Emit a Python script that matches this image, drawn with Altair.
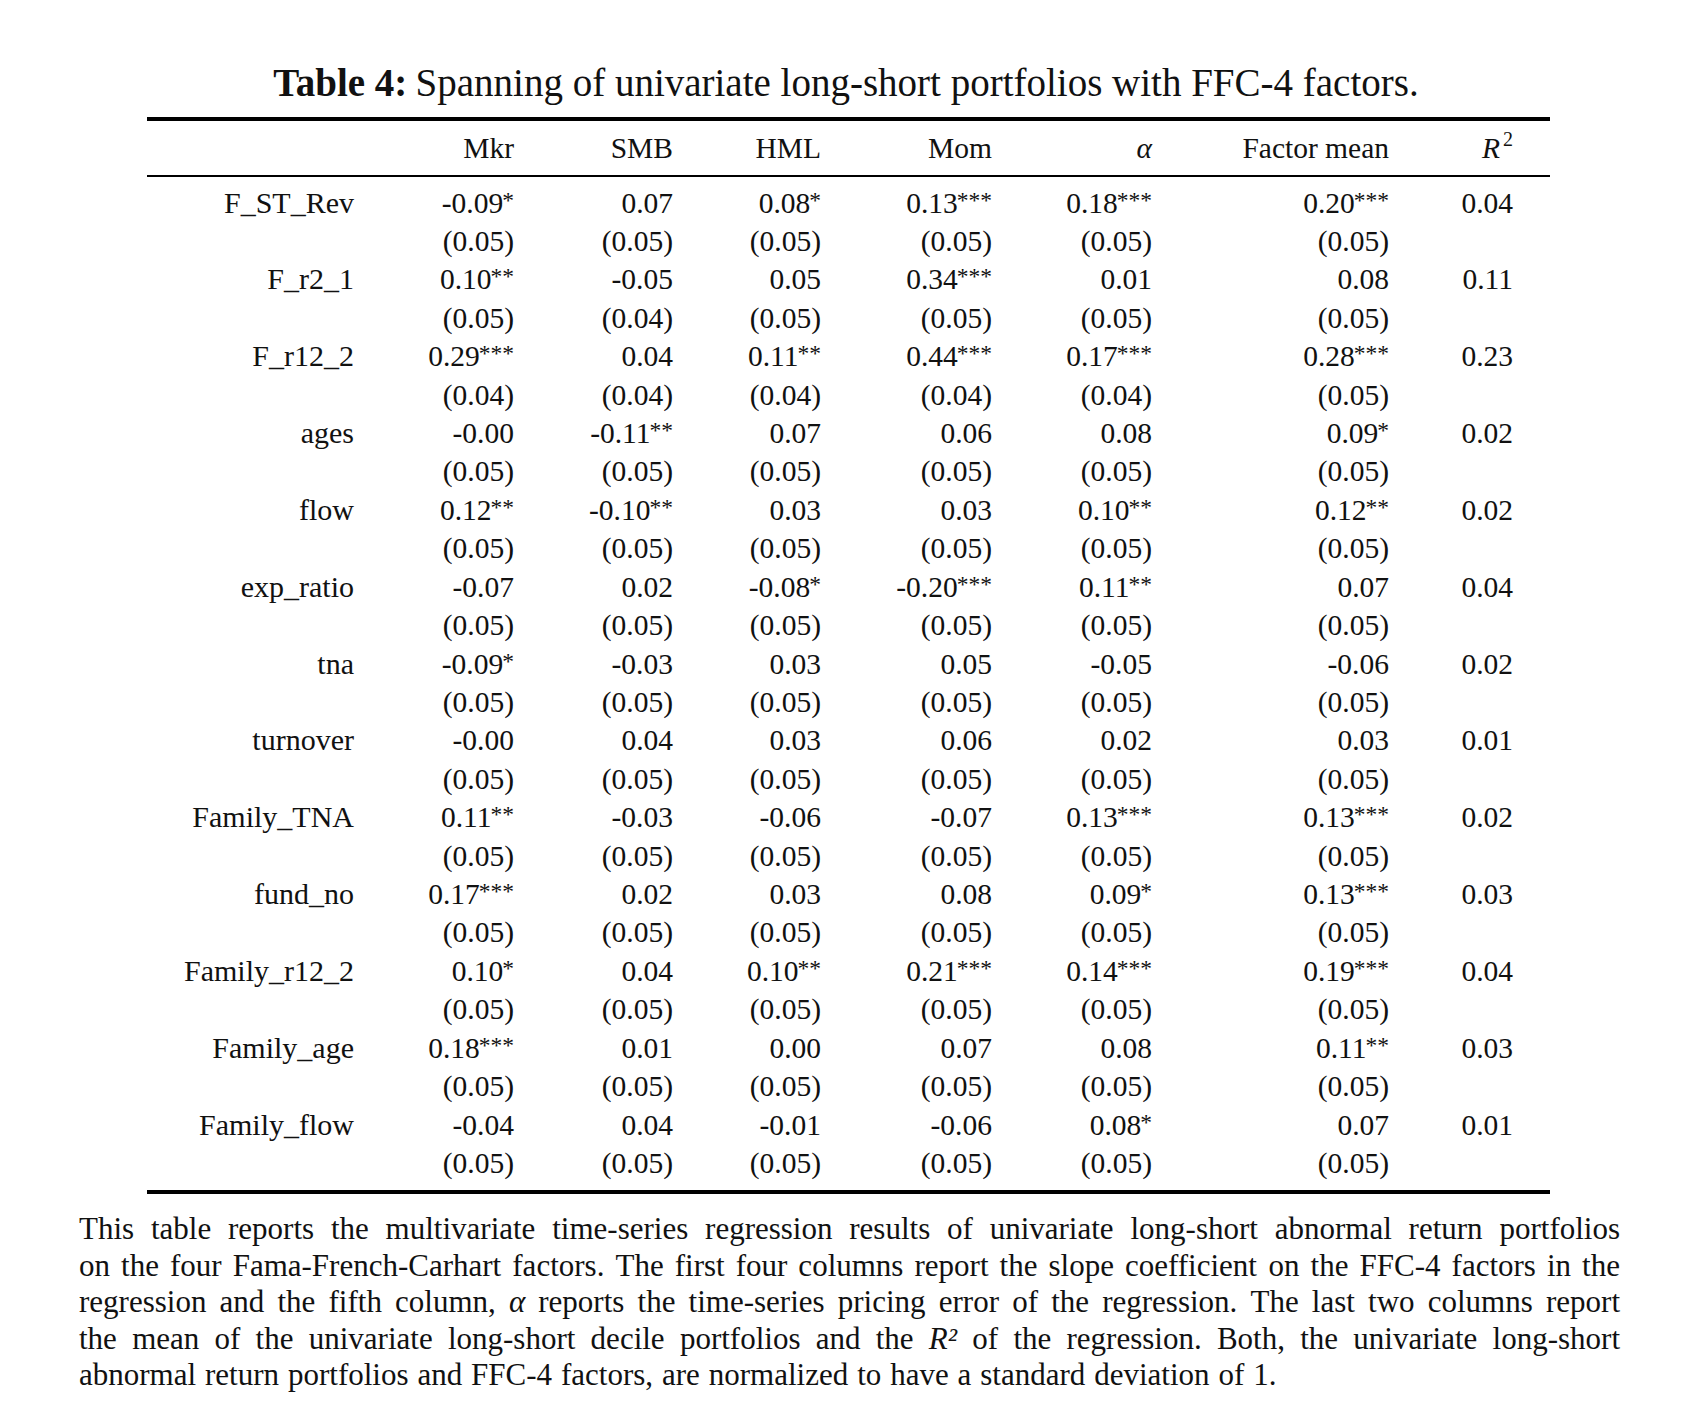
import altair as alt
import pandas as pd

FONT = "Liberation Serif"

row_labels = ["F_ST_Rev", "F_r2_1", "F_r12_2", "ages", "flow", "exp_ratio", "tna",
              "turnover", "Family_TNA", "fund_no", "Family_r12_2", "Family_age", "Family_flow"]

mkr = ["-0.09*", "0.10**", "0.29***", "-0.00", "0.12**", "-0.07", "-0.09*", "-0.00",
       "0.11**", "0.17***", "0.10*", "0.18***", "-0.04"]
mkr_se = ["0.05", "0.05", "0.04", "0.05", "0.05", "0.05", "0.05", "0.05", "0.05", "0.05",
          "0.05", "0.05", "0.05"]
smb = ["0.07", "-0.05", "0.04", "-0.11**", "-0.10**", "0.02", "-0.03", "0.04", "-0.03",
       "0.02", "0.04", "0.01", "0.04"]
smb_se = ["0.05", "0.04", "0.04", "0.05", "0.05", "0.05", "0.05", "0.05", "0.05", "0.05",
          "0.05", "0.05", "0.05"]
hml = ["0.08*", "0.05", "0.11**", "0.07", "0.03", "-0.08*", "0.03", "0.03", "-0.06",
       "0.03", "0.10**", "0.00", "-0.01"]
hml_se = ["0.05", "0.05", "0.04", "0.05", "0.05", "0.05", "0.05", "0.05", "0.05", "0.05",
          "0.05", "0.05", "0.05"]
mom = ["0.13***", "0.34***", "0.44***", "0.06", "0.03", "-0.20***", "0.05", "0.06",
       "-0.07", "0.08", "0.21***", "0.07", "-0.06"]
mom_se = ["0.05", "0.05", "0.04", "0.05", "0.05", "0.05", "0.05", "0.05", "0.05", "0.05",
          "0.05", "0.05", "0.05"]
alpha = ["0.18***", "0.01", "0.17***", "0.08", "0.10**", "0.11**", "-0.05", "0.02",
         "0.13***", "0.09*", "0.14***", "0.08", "0.08*"]
alpha_se = ["0.05", "0.05", "0.04", "0.05", "0.05", "0.05", "0.05", "0.05", "0.05", "0.05",
            "0.05", "0.05", "0.05"]
fmean = ["0.20***", "0.08", "0.28***", "0.09*", "0.12**", "0.07", "-0.06", "0.03",
         "0.13***", "0.13***", "0.19***", "0.11**", "0.07"]
fmean_se = ["0.05", "0.05", "0.05", "0.05", "0.05", "0.05", "0.05", "0.05", "0.05", "0.05",
            "0.05", "0.05", "0.05"]
r2 = ["0.04", "0.11", "0.23", "0.02", "0.02", "0.04", "0.02", "0.01", "0.02", "0.03",
      "0.04", "0.03", "0.01"]

headers = ["Mkr", "SMB", "HML", "Mom", "α", "Factor mean", "R"]

title_bold = "Table 4:"
title_rest = "Spanning of univariate long-short portfolios with FFC-4 factors."

footnote = [
    "This table reports the multivariate time-series regression results of univariate long-short abnormal return portfolios",
    "on the four Fama-French-Carhart factors. The first four columns report the slope coefficient on the FFC-4 factors in the",
    "regression and the fifth column, α reports the time-series pricing error of the regression. The last two columns report",
    "the mean of the univariate long-short decile portfolios and the R² of the regression. Both, the univariate long-short",
    "abnormal return portfolios and FFC-4 factors, are normalized to have a standard deviation of 1.",
]
italic_words = ["α", "R²"]

# ---- approximate Times (Liberation Serif) advance widths, per 1000 em, for layout ----
TR = {" ": 250, "(": 333, ")": 333, "*": 500, ",": 250, "-": 333, ".": 250, ":": 278,
      "A": 722, "B": 667, "C": 667, "D": 722, "E": 611, "F": 556, "G": 722, "H": 722,
      "I": 333, "J": 389, "K": 722, "L": 611, "M": 889, "N": 722, "O": 722, "P": 556,
      "Q": 722, "R": 611, "S": 556, "T": 611, "U": 722, "V": 722, "W": 944, "X": 722,
      "Y": 722, "Z": 611, "a": 444, "b": 500, "c": 444, "d": 500, "e": 444, "f": 333,
      "g": 500, "h": 500, "i": 278, "j": 278, "k": 500, "l": 278, "m": 778, "n": 500,
      "o": 500, "p": 500, "q": 500, "r": 333, "s": 389, "t": 278, "u": 500, "v": 500,
      "w": 722, "x": 500, "y": 500, "z": 444, "α": 520, "²": 300}
TB = {" ": 250, "T": 667, "a": 500, "b": 556, "l": 278, "e": 444, "4": 500, ":": 333}


def width(s, size, table=TR):
    return sum(table.get(ch, 500) for ch in s) / 1000.0 * size


# ---- layout (pixels in plot area) ----
W, H = 1690, 1412
FS = 29.5
STAR_FS = 23.5
STAR_W = 0.5 * STAR_FS
col_x = [506, 665, 813, 984, 1144, 1381, 1505]   # right edges of the 7 columns
label_x = 346
yscale = alt.Scale(domain=[0, 25], range=[195.5, 1156])
pix = alt.Scale(domain=[0, W], range=[0, W])
piy = alt.Scale(domain=[0, H], range=[0, H])
TXT = dict(font=FONT, color="#111")
ax = dict(axis=None)

columns = [(mkr, mkr_se), (smb, smb_se), (hml, hml_se), (mom, mom_se),
           (alpha, alpha_se), (fmean, fmean_se), (r2, None)]

# body table derived from the arrays
rows = []
for (vals, ses), xr in zip(columns, col_x):
    for i, v in enumerate(vals):
        num = v.rstrip("*")
        stars = v[len(num):]
        rows.append({"line": 2 * i, "num": num, "stars": stars,
                     "xn": xr - len(stars) * STAR_W + (1 if stars else 0), "xs": xr})
        if ses is not None:
            rows.append({"line": 2 * i + 1, "num": "(" + ses[i] + ")", "stars": "",
                         "xn": xr, "xs": xr})
body = pd.DataFrame(rows)

layers = []
layers.append(
    alt.Chart(body).mark_text(align="right", baseline="middle", fontSize=FS, **TXT)
    .encode(x=alt.X("xn:Q", scale=pix, **ax), y=alt.Y("line:Q", scale=yscale, **ax), text="num:N")
)
layers.append(
    alt.Chart(body).transform_filter(alt.datum.stars != "")
    .mark_text(align="right", baseline="middle", fontSize=STAR_FS, dy=-3, **TXT)
    .encode(x=alt.X("xs:Q", scale=pix, **ax), y=alt.Y("line:Q", scale=yscale, **ax), text="stars:N")
)

# row labels
lab_df = pd.DataFrame({"line": [2 * i for i in range(len(row_labels))], "text": row_labels})
layers.append(
    alt.Chart(lab_df).mark_text(align="right", baseline="middle", fontSize=FS + 0.5, **TXT)
    .encode(x=alt.value(label_x), y=alt.Y("line:Q", scale=yscale, **ax), text="text:N")
)

# headers
head_y = 141
for h, x in zip(headers, col_x):
    italic = h in ("α", "R")
    xx = x - 13 if h == "R" else x
    layers.append(
        alt.Chart(pd.DataFrame({"t": [h]})).mark_text(
            align="right", baseline="middle", fontSize=FS,
            fontStyle="italic" if italic else "normal", **TXT)
        .encode(x=alt.value(xx), y=alt.value(head_y), text="t:N")
    )
layers.append(
    alt.Chart(pd.DataFrame({"t": ["2"]})).mark_text(
        align="right", baseline="middle", fontSize=20, **TXT)
    .encode(x=alt.value(col_x[-1]), y=alt.value(head_y - 9), text="t:N")
)

# title: centred, sized to the reference's extent
title_target = 1160
t_gap = 0.12
t_em = width(title_bold, 1, TB) + t_gap + width(title_rest, 1)
TFS = min(39, title_target / t_em)
t_left = 838 - t_em * TFS / 2
t_split = t_left + width(title_bold, TFS, TB)
title_df = pd.DataFrame({
    "x": [t_left, t_split + t_gap * TFS], "y": [76, 76],
    "text": [title_bold, title_rest], "w": ["bold", "normal"]})
for wt in ["bold", "normal"]:
    layers.append(
        alt.Chart(title_df).transform_filter(alt.datum.w == wt)
        .mark_text(align="left", baseline="middle", fontSize=TFS, fontWeight=wt, **TXT)
        .encode(x=alt.X("x:Q", scale=pix, **ax), y=alt.Y("y:Q", scale=piy, **ax), text="text:N")
    )

# rules
for yy, sw in [(111, 4), (168, 2), (1184, 4)]:
    layers.append(
        alt.Chart(pd.DataFrame({"a": [0]})).mark_rule(color="#000", strokeWidth=sw)
        .encode(x=alt.value(139), x2=alt.value(1542), y=alt.value(yy))
    )

# footnote: justified word by word between the block edges
FFS = 31
fx0, fx1 = 71, 1612
fy0, fdy = 1222, 36.6
words = []
for li, line in enumerate(footnote):
    ws = line.split()
    ww = [width(w, FFS) for w in ws]
    if li < len(footnote) - 1 and len(ws) > 1:
        gap = (fx1 - fx0 - sum(ww)) / (len(ws) - 1)
    else:
        gap = width(" ", FFS) * 1.15
    x = fx0
    for w, wd in zip(ws, ww):
        words.append({"x": x, "y": fy0 + li * fdy, "text": w,
                      "style": "italic" if w in italic_words else "normal"})
        x += wd + gap
fn_df = pd.DataFrame(words)
for st in ["normal", "italic"]:
    layers.append(
        alt.Chart(fn_df).transform_filter(alt.datum.style == st)
        .mark_text(align="left", baseline="middle", fontSize=FFS, fontStyle=st, **TXT)
        .encode(x=alt.X("x:Q", scale=pix, **ax), y=alt.Y("y:Q", scale=piy, **ax), text="text:N")
    )

chart = alt.layer(*layers).resolve_scale(x="independent", y="independent").properties(
    width=W, height=H, autosize=alt.AutoSizeParams(type="none"), padding=0,
    view=alt.ViewBackground(stroke="transparent", strokeWidth=0, strokeOpacity=0)
).configure_view(stroke="transparent", strokeWidth=0, strokeOpacity=0).configure(background="white")

chart.save("out.html", embed_options={"renderer": "svg", "actions": False})
